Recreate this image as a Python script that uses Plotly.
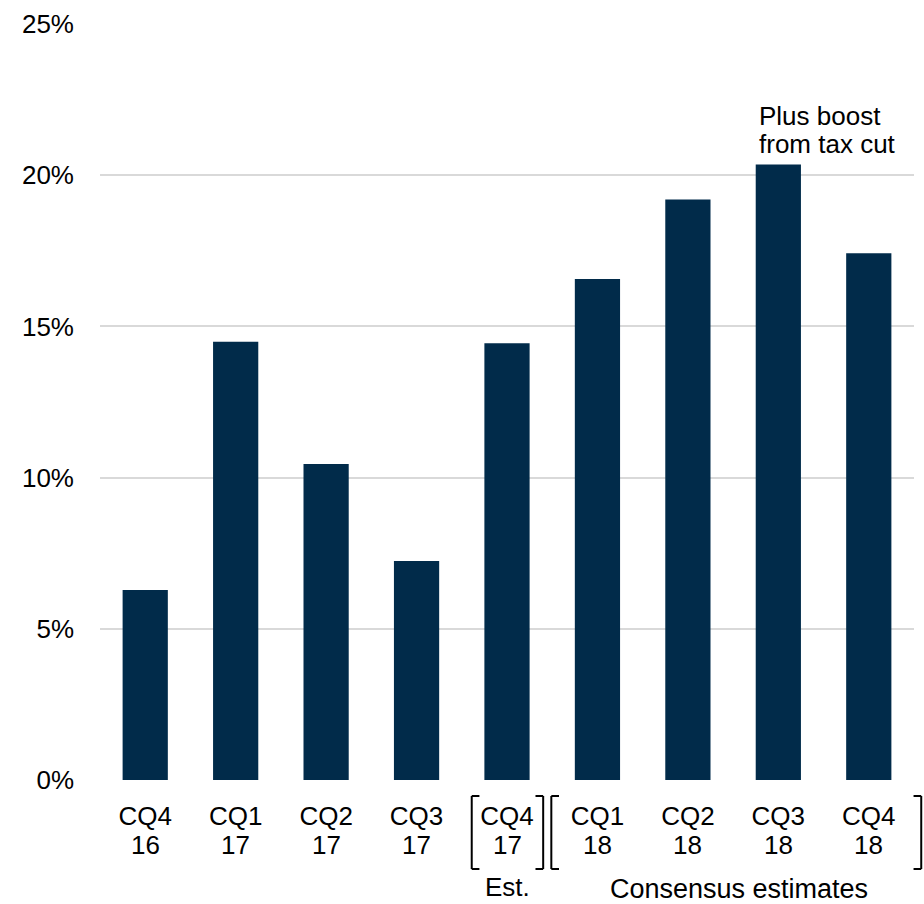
import plotly.graph_objects as go

# Quarterly earnings growth, year over year (%)
quarters = ["CQ4", "CQ1", "CQ2", "CQ3", "CQ4", "CQ1", "CQ2", "CQ3", "CQ4"]
years = ["16", "17", "17", "17", "17", "18", "18", "18", "18"]
growth = [6.28, 14.49, 10.45, 7.24, 14.44, 16.57, 19.2, 20.35, 17.42]
y_ticks = [0, 5, 10, 15, 20, 25]
y_tick_text = [f"{v}%" for v in y_ticks]

NAVY = "#012B4A"
FONT = "Liberation Sans, Arial, sans-serif"
FS = 26
positions = list(range(len(quarters)))
n_cat = len(quarters)

# Plot area in pixels (used to place decorations below the axis)
W, H = 924, 904
M_L, M_R, M_T, M_B = 100, 10, 24, 124
PLOT_H = H - M_T - M_B


def px_to_paper_y(py):
    """Convert a pixel row below the top of the page into paper y."""
    return (H - M_B - py) / PLOT_H


def cat_to_paper_x(cat):
    """Convert a category position (can be fractional) into paper x."""
    return (cat + 0.5) / n_cat


fig = go.Figure(
    go.Bar(
        x=positions,
        y=growth,
        width=0.5,
        marker=dict(color=NAVY, line=dict(width=0)),
        hoverinfo="skip",
    )
)

# Bracket: a vertical stroke with short serifs at top and bottom
BR_TOP = px_to_paper_y(796)
BR_BOT = px_to_paper_y(869)
SERIF = 0.085


def bracket(cat, direction):
    x = cat_to_paper_x(cat)
    xs = cat_to_paper_x(cat + direction * SERIF)
    style = dict(color="black", width=2)
    return [
        dict(type="line", xref="paper", yref="paper", x0=x, x1=x,
             y0=BR_TOP, y1=BR_BOT, line=style),
        dict(type="line", xref="paper", yref="paper", x0=x, x1=xs,
             y0=BR_TOP, y1=BR_TOP, line=style),
        dict(type="line", xref="paper", yref="paper", x0=x, x1=xs,
             y0=BR_BOT, y1=BR_BOT, line=style),
    ]


shapes = []
shapes += bracket(4 - 0.39, 1)    # estimate, left
shapes += bracket(4 + 0.40, -1)   # estimate, right
shapes += bracket(5 - 0.51, 1)    # consensus, left
shapes += bracket(8 + 0.58, -1)   # consensus, right

text_font = dict(size=FS, family=FONT, color="black")
annotations = []

# Second row of category labels (year)
for pos, yr in zip(positions, years):
    annotations.append(dict(
        text=yr, x=pos, y=px_to_paper_y(845), xref="x", yref="paper",
        showarrow=False, xanchor="center", yanchor="middle", font=text_font))

annotations += [
    dict(text="Est.", x=4, y=px_to_paper_y(887), xref="x", yref="paper",
         showarrow=False, xanchor="center", yanchor="middle", font=text_font),
    dict(text="Consensus estimates", x=6.56, y=px_to_paper_y(889),
         xref="x", yref="paper", showarrow=False, xanchor="center",
         yanchor="middle", font=dict(size=27, family=FONT, color="black")),
    dict(text="Plus boost", x=6.765, y=21.95, xref="x", yref="y",
         showarrow=False, xanchor="left", yanchor="middle", font=text_font),
    dict(text="from tax cut", x=6.765, y=21.02, xref="x", yref="y",
         showarrow=False, xanchor="left", yanchor="middle", font=text_font),
]

fig.update_layout(
    width=W,
    height=H,
    margin=dict(l=M_L, r=M_R, t=M_T, b=M_B),
    paper_bgcolor="white",
    plot_bgcolor="white",
    showlegend=False,
    font=dict(family=FONT, size=FS, color="black"),
    shapes=shapes,
    annotations=annotations,
    xaxis=dict(
        range=[-0.5, 8.5],
        tickmode="array",
        tickvals=positions,
        ticktext=quarters,
        showgrid=False,
        zeroline=False,
        showline=False,
        ticks="",
        ticklabelstandoff=18,
        tickfont=text_font,
    ),
    yaxis=dict(
        range=[0, 25],
        tickmode="array",
        tickvals=y_ticks,
        ticktext=y_tick_text,
        showgrid=True,
        gridcolor="#D9D9D9",
        gridwidth=2,
        zeroline=False,
        showline=False,
        ticks="",
        ticklabelstandoff=25,
        tickfont=text_font,
    ),
)

fig.write_html("out.html")
